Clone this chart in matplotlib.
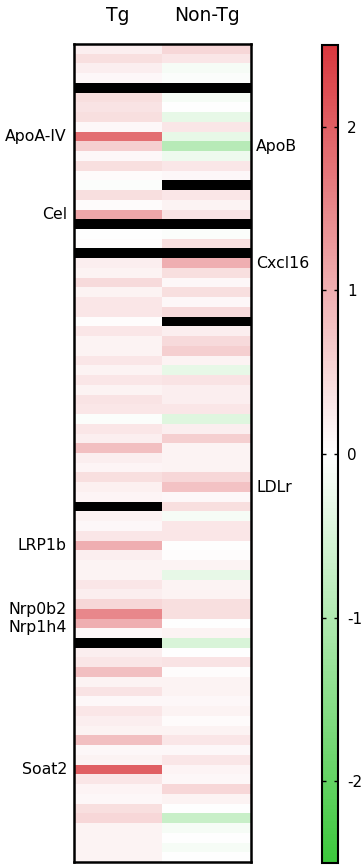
import numpy as np
import matplotlib
matplotlib.use("Agg")
import matplotlib.pyplot as plt
from matplotlib.colors import LinearSegmentedColormap

nan = np.nan
columns = ["Tg", "Non-Tg"]

tg = [0.2, 0.4, 0.2, 0.08, nan, 0.4, 0.35, 0.4, 0.08, 1.8,
      0.6, 0.08, 0.4, 0.04, -0.05, 0.4, 0.04, 1.1, nan, 0.0,
      0.03, nan, 0.2, 0.15, 0.45, 0.15, 0.3, 0.3, 0.03, 0.3,
      0.15, 0.15, 0.3, 0.15, 0.3, 0.15, 0.35, 0.3, -0.05, 0.3,
      0.2, 0.8, 0.2, 0.12, 0.4, 0.18, 0.12, nan, 0.15, 0.08,
      0.3, 1.0, 0.2, 0.15, 0.15, 0.3, 0.2, 0.5, 1.5, 1.0,
      0.08, nan, 0.2, 0.3, 0.8, 0.15, 0.35, 0.08, 0.3, 0.2,
      0.15, 0.8, 0.08, 0.15, 2.0, 0.3, 0.12, 0.08, 0.4, 0.5,
      0.15, 0.15, 0.15, 0.15]

non_tg = [0.5, 0.3, -0.1, -0.05, nan, -0.1, 0.0, -0.3, 0.3, -0.3,
          -0.9, -0.2, 0.3, 0.08, nan, 0.3, 0.15, 0.35, nan, -0.05,
          0.4, nan, 1.0, 0.4, 0.08, 0.4, 0.08, 0.45, nan, 0.2,
          0.45, 0.6, 0.15, -0.3, 0.35, 0.2, 0.2, 0.3, -0.4, 0.2,
          0.6, 0.15, 0.15, 0.15, 0.5, 0.75, 0.08, 0.4, -0.1, 0.3,
          0.3, 0.0, 0.03, 0.15, -0.3, 0.15, 0.15, 0.4, 0.4, 0.0,
          0.15, -0.5, 0.0, 0.35, 0.03, 0.15, 0.15, 0.08, 0.15, 0.05,
          0.15, 0.3, 0.08, 0.3, 0.12, 0.08, 0.5, 0.15, 0.0, -0.7,
          -0.1, 0.0, -0.1, 0.0]

left_labels = ["ApoA-IV", "Cel", "LRP1b", "Nrp0b2", "Nrp1h4", "Soat2"]
left_label_rows = [9, 17, 51, 57.6, 59.4, 74]
right_labels = ["ApoB", "Cxcl16", "LDLr"]
right_label_rows = [10, 22, 45]

cbar_ticks = [-2, -1, 0, 1, 2]
cbar_ticklabels = ["-2", "-1", "0", "1", "2"]

cmap = LinearSegmentedColormap.from_list("gwr", ["#3cc83c", "#ffffff", "#d9383e"])
cmap.set_bad("black")

data = np.ma.masked_invalid(np.column_stack([tg, non_tg]))
nrows = data.shape[0]

fig = plt.figure(figsize=(3.64, 8.67), dpi=100)
ax = fig.add_axes([74/364, 1 - 862/867, 177/364, 818/867])
im = ax.imshow(data, cmap=cmap, vmin=-2.5, vmax=2.5, aspect="auto",
               interpolation="nearest", extent=(-0.5, 1.5, nrows - 0.5, -0.5))
ax.set_xticks([])
ax.set_yticks([])
for s in ax.spines.values():
    s.set_linewidth(1.8)

for i, c in enumerate(columns):
    ax.text(i, -3.4, c, ha="center", va="center", fontsize=13.5)

for lab, r in zip(left_labels, left_label_rows):
    ax.text(-0.58, r, lab, ha="right", va="center", fontsize=11.3)
for lab, r in zip(right_labels, right_label_rows):
    ax.text(1.56, r, lab, ha="left", va="center", fontsize=11.3)

cax = fig.add_axes([322/364, 1 - 863/867, 16.5/364, 818/867])
cb = fig.colorbar(im, cax=cax)
cb.set_ticks(cbar_ticks)
cb.set_ticklabels(cbar_ticklabels)
cax.tick_params(direction="in", left=True, right=True, length=3, width=1,
                labelsize=11, pad=6)
cb.outline.set_linewidth(1.5)

fig.savefig("out.png", dpi=100)
